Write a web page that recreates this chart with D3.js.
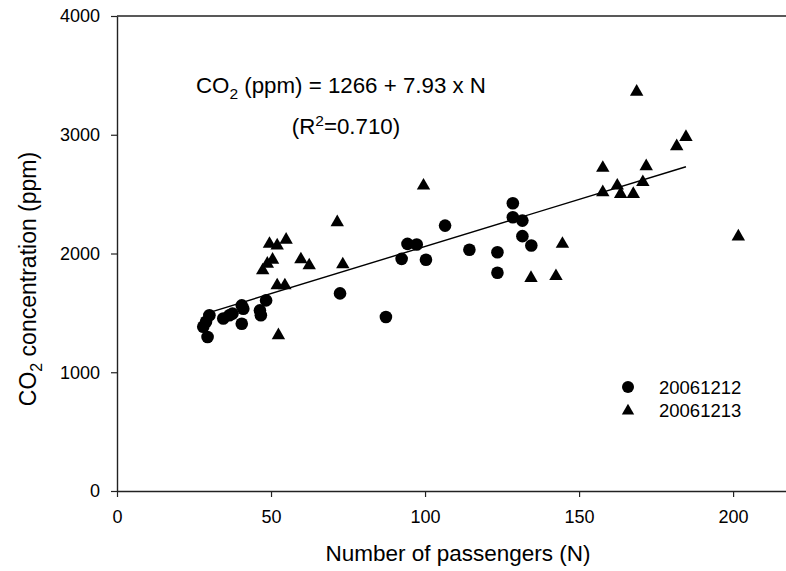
<!DOCTYPE html>
<html>
<head>
<meta charset="utf-8">
<script src="https://cdn.jsdelivr.net/npm/d3@7"></script>
<style>
  body { margin: 0; background: #fff; }
  svg text { font-family: "Liberation Sans", Arial, sans-serif; fill: #000; }
</style>
</head>
<body>
<svg id="chart" width="786" height="571"></svg>
<script>
// 20061212 : [passengers, CO2 ppm]
var day1 = [
  [29.4,1297],[28,1383],[28.9,1425],[30,1480],[34.5,1453],[36.5,1480],[37.5,1494],
  [40.5,1563],[41,1535],[40.5,1409],[46.4,1521],[46.7,1480],[48.4,1605],[72.4,1664],
  [87.3,1465],[92.4,1955],[94.3,2081],[97.3,2076],[100.3,1947],[106.5,2235],[114.4,2031],
  [123.5,2011],[123.5,1838],[128.5,2423],[128.5,2305],[131.6,2277],[131.6,2146],[134.5,2067]
];
// 20061213
var day2 = [
  [49.5,2081],[52,2067],[54.9,2115],[50.5,1947],[48.8,1913],[47.3,1857],[52,1731],
  [54.5,1731],[52.4,1311],[59.7,1950],[62.4,1900],[71.5,2263],[73.3,1908],[99.5,2571],
  [134.4,1793],[142.5,1809],[144.6,2081],[157.7,2720],[157.7,2515],[162.4,2571],
  [163.5,2501],[167.6,2501],[170.7,2600],[171.8,2734],[168.7,3362],[181.7,2903],
  [184.7,2981],[201.7,2143]
];
var seriesNames = ["20061212", "20061213"];
var xTicks = [0, 50, 100, 150, 200];
var yTicks = [0, 1000, 2000, 3000, 4000];
// regression: CO2 = 1266 + 7.93 N, drawn over the fitted range
var fitIntercept = 1266, fitSlope = 7.93;
var fitRange = [28, 184.7];

var svg = d3.select("#chart");

var x = d3.scaleLinear().domain([0, 217.5]).range([117, 787]);
var y = d3.scaleLinear().domain([0, 4000]).range([491, 16]);

//Axes
var xAxis = svg.append("g")
    .attr("transform", "translate(0," + y(0) + ")")
    .call(d3.axisBottom(x).tickValues(xTicks).tickFormat(d3.format("d"))
        .tickSize(6).tickSizeOuter(0).tickPadding(13));
var yAxis = svg.append("g")
    .attr("transform", "translate(" + x(0) + ",0)")
    .call(d3.axisLeft(y).tickValues(yTicks).tickFormat(d3.format("d"))
        .tickSize(6).tickSizeOuter(0).tickPadding(11));

[xAxis, yAxis].forEach(function(g){
    g.selectAll("path.domain").attr("stroke", "#222").attr("stroke-width", 1.4);
    g.selectAll(".tick line").attr("stroke", "#222").attr("stroke-width", 1.2);
    g.selectAll(".tick text").attr("font-size", 18).attr("fill", "#000")
        .style("font-family", "'Liberation Sans', Arial, sans-serif");
});

//Top frame line
svg.append("line")
    .attr("x1", x(0)).attr("x2", x(217.5))
    .attr("y1", y(4000)).attr("y2", y(4000))
    .attr("stroke", "#222").attr("stroke-width", 1.4);

//Regression line
svg.append("line")
    .attr("x1", x(fitRange[0])).attr("y1", y(fitIntercept + fitSlope * fitRange[0]))
    .attr("x2", x(fitRange[1])).attr("y2", y(fitIntercept + fitSlope * fitRange[1]))
    .attr("stroke", "#000").attr("stroke-width", 1.4);

//Points
svg.append("g").selectAll("circle")
    .data(day1).enter().append("circle")
    .attr("cx", function(d){ return x(d[0]); })
    .attr("cy", function(d){ return y(d[1]); })
    .attr("r", 6.3)
    .attr("fill", "#000");

var tri = d3.symbol().type(d3.symbolTriangle).size(78);
svg.append("g").selectAll("path")
    .data(day2).enter().append("path")
    .attr("d", tri)
    .attr("transform", function(d){ return "translate(" + x(d[0]) + "," + y(d[1]) + ")"; })
    .attr("fill", "#000");

//Legend
var legend = svg.append("g");
legend.append("circle").attr("cx", 628).attr("cy", 387).attr("r", 6).attr("fill", "#000");
legend.append("path").attr("d", d3.symbol().type(d3.symbolTriangle).size(66))
    .attr("transform", "translate(628,411)").attr("fill", "#000");
legend.selectAll("text").data(seriesNames).enter().append("text")
    .attr("x", 659)
    .attr("y", function(d, i){ return 394 + i * 23; })
    .attr("font-size", 18.5)
    .text(function(d){ return d; });

//Equation
var eq = svg.append("text").attr("x", 196).attr("y", 93).attr("font-size", 22.3);
eq.append("tspan").text("CO");
eq.append("tspan").attr("font-size", 15.5).attr("dy", 6).text("2");
eq.append("tspan").attr("dy", -6).text(" (ppm) = 1266 + 7.93 x N");

var r2 = svg.append("text").attr("x", 346).attr("y", 134)
    .attr("text-anchor", "middle").attr("font-size", 22.3);
r2.append("tspan").text("(R");
r2.append("tspan").attr("font-size", 15.5).attr("dy", -8).text("2");
r2.append("tspan").attr("dy", 8).text("=0.710)");

//Axis titles
svg.append("text")
    .attr("x", 458).attr("y", 561)
    .attr("text-anchor", "middle")
    .attr("font-size", 22.5)
    .text("Number of passengers (N)");

var yt = svg.append("text")
    .attr("transform", "translate(36,279) rotate(-90)")
    .attr("text-anchor", "middle")
    .attr("font-size", 23);
yt.append("tspan").text("CO");
yt.append("tspan").attr("font-size", 16).attr("dy", 6).text("2");
yt.append("tspan").attr("dy", -6).text(" concentration (ppm)");
</script>
</body>
</html>
